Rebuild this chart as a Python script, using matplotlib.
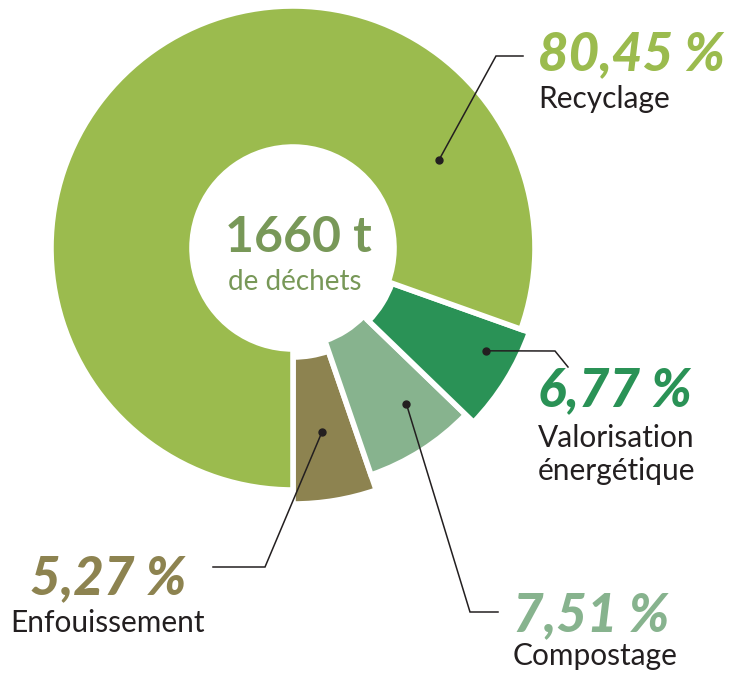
import numpy as np
import matplotlib.pyplot as plt

# data, in the order the slices run counter-clockwise from straight down
categories = ["Enfouissement", "Compostage", "Valorisation\nénergétique", "Recyclage"]
shares = [5.27, 7.51, 6.77, 80.45]
pct_labels = ["5,27 %", "7,51 %", "6,77 %", "80,45 %"]
total_label = "1660 t"
total_sub = "de déchets"

colors = ["#8d8350", "#87b38e", "#2a9256", "#9bbb4e"]
txt_dark = "#231f20"
center_col = "#789858"

W, H = 739, 676
cx, cy = 293, H - 248

plt.rcParams['font.family'] = ['Lato', 'DejaVu Sans']

fig = plt.figure(figsize=(W / 100, H / 100), dpi=100)
ax = fig.add_axes([0, 0, 1, 1])

wedges, _ = ax.pie(shares, colors=colors, startangle=-90, counterclock=True,
                   center=(cx, cy), radius=242,
                   wedgeprops=dict(width=141, edgecolor="white", linewidth=4))
# slice sizes as drawn (outer radius, ring width)
radii = [256, 240, 251, 242]
widths = [147, 142, 146, 141]
for w, r, wd in zip(wedges, radii, widths):
    w.set_radius(r)
    w.set_width(wd)

ax.set_xlim(0, W)
ax.set_ylim(0, H)
ax.set_aspect('equal')
ax.axis('off')

def py(y):
    return H - y

# centre text
ax.text(cx + 5, py(252), total_label, ha='center', va='baseline',
        fontsize=36, fontweight='bold', color=center_col)
ax.text(cx + 2, py(290), total_sub, ha='center', va='baseline',
        fontsize=20, fontweight='normal', color=center_col)

# leader lines: dot angle/radius on slice, then elbow and end (pixels)
dot_ang = [-81, -54, -28, 31]
dot_r = [186, 193, 219, 170]
elbows = [(265, 567), (470, 612), (555, 351), (496, 56)]
ends = [(213, 567), (498, 612), (568, 367), (523, 56)]
for a, r, e, f in zip(dot_ang, dot_r, elbows, ends):
    x0 = cx + r * np.cos(np.radians(a))
    y0 = cy + r * np.sin(np.radians(a))
    ax.plot([x0, e[0], f[0]], [y0, py(e[1]), py(f[1])], color=txt_dark, lw=1.1,
            solid_joinstyle='miter')
    ax.plot(x0, y0, 'o', color=txt_dark, ms=5)

# percent + name labels (left x, pct baseline, name baseline)
lab_pos = [(30, 594, 632), (513, 631, 665), (538, 406, 447), (538, 70, 108)]
for i, (x, yb, yn) in enumerate(lab_pos):
    ax.text(x, py(yb), pct_labels[i], ha='left', va='baseline', fontsize=38,
            fontweight='black', fontstyle='italic', color=colors[i])
    lines = categories[i].split("\n")
    for k, s in enumerate(lines):
        ax.text(x - (20 if i == 0 else 0), py(yn + 33 * k), s, ha='left',
                va='baseline', fontsize=21.5, color=txt_dark)

fig.savefig("out.png", dpi=100)
